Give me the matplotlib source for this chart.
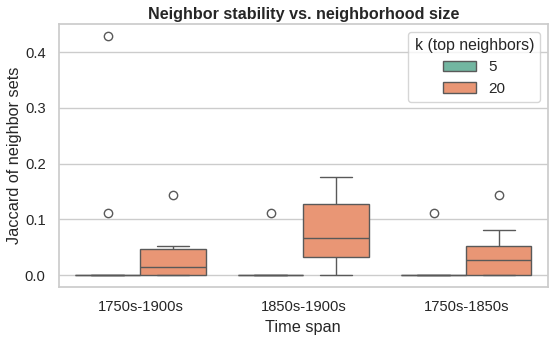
import matplotlib
matplotlib.use("Agg")
import matplotlib.pyplot as plt
import seaborn as sns
import pandas as pd

spans = ["1750s-1900s", "1850s-1900s", "1750s-1850s"]
k_values = ["5", "20"]

k5_1750_1900 = [0, 0, 0, 0, 0, 0, 0, 0.111, 0.429]
k5_1850_1900 = [0, 0, 0, 0, 0, 0, 0, 0, 0.111]
k5_1750_1850 = [0, 0, 0, 0, 0, 0, 0, 0, 0.111]
k20_1750_1900 = [0, 0, 0, 0, 0.0138, 0.04, 0.0467, 0.0526, 0.143]
k20_1850_1900 = [0, 0.02, 0.033, 0.05, 0.067, 0.1, 0.1275, 0.15, 0.1765]
k20_1750_1850 = [0, 0, 0, 0, 0.0264, 0.04, 0.0527, 0.0813, 0.143]

series = {
    ("1750s-1900s", "5"): k5_1750_1900,
    ("1850s-1900s", "5"): k5_1850_1900,
    ("1750s-1850s", "5"): k5_1750_1850,
    ("1750s-1900s", "20"): k20_1750_1900,
    ("1850s-1900s", "20"): k20_1850_1900,
    ("1750s-1850s", "20"): k20_1750_1850,
}

rows = []
for (span, k), vals in series.items():
    for v in vals:
        rows.append({"span": span, "k": k, "jaccard": v})
df = pd.DataFrame(rows)

sns.set_theme(style="whitegrid")
plt.rcParams["font.family"] = ["Liberation Sans", "DejaVu Sans"]

fig, ax = plt.subplots(figsize=(5.55, 3.39), dpi=100)
sns.boxplot(data=df, x="span", y="jaccard", hue="k", order=spans,
            hue_order=k_values, palette="Set2", ax=ax)
ax.set_title("Neighbor stability vs. neighborhood size",
             fontsize=11.6, fontweight="bold", pad=4)
ax.set_xlabel("Time span", fontsize=11.7)
ax.set_ylabel("Jaccard of neighbor sets", fontsize=11.7, labelpad=2)
ax.tick_params(labelsize=10.6)
sns.move_legend(ax, "upper right", title="k (top neighbors)",
                fontsize=11, title_fontsize=11.4, handlelength=2.2)
fig.subplots_adjust(left=0.106, right=0.987, bottom=0.153, top=0.929)
fig.savefig("out.png", dpi=100)
